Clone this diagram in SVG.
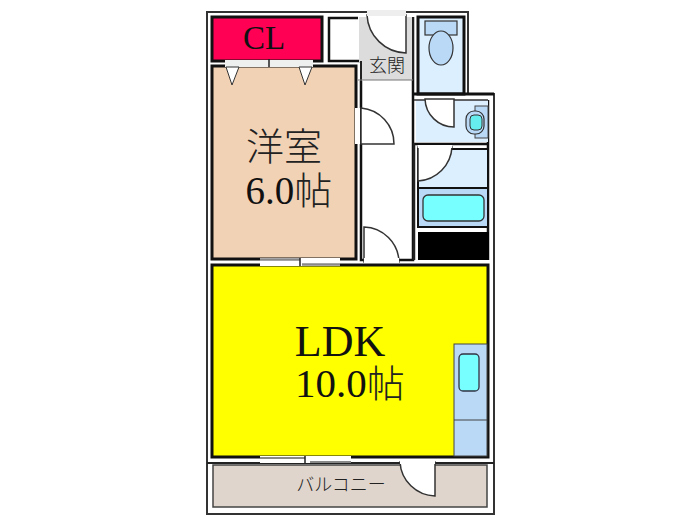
<svg xmlns="http://www.w3.org/2000/svg" width="700" height="525" viewBox="0 0 700 525">
<style>
.door{fill:#fff;stroke:#333;stroke-width:1.5}
.gap{fill:#fff;stroke:none}
.jp{font-family:"Noto Sans CJK JP","Noto Sans",sans-serif;fill:#222;font-weight:300}
.en{font-family:"Liberation Serif","Noto Sans CJK JP",serif;fill:#111}
</style>
<rect width="700" height="525" fill="#fff"/>
<g id="outer-wall">
<path d="M207 12H468V94H494V514H207Z" fill="#fff" stroke="#333" stroke-width="2"/>
<path d="M207 463H494" fill="none" stroke="#222" stroke-width="2"/>
<path d="M488 100V260" fill="none" stroke="#111" stroke-width="2.500"/>
</g>
<g id="balcony">
<rect x="213" y="465" width="274" height="42" fill="#e0d5cc" stroke="#444" stroke-width="1.500"/>
<path d="M435 462V496A36 36 0 0 1 400 462Z" class="door"/>
<rect x="400" y="458" width="35" height="6" class="gap"/>
<text x="341" y="491" text-anchor="middle" class="jp" font-size="18">バルコニー</text>
</g>
<g id="closet">
<rect x="212" y="17" width="110" height="44" fill="#ff0055" stroke="#111" stroke-width="3"/>
<text x="264" y="49" text-anchor="middle" class="en" font-size="33">CL</text>
</g>
<g id="storage">
<path d="M358 18H329V61H361" fill="#fff" stroke="#111" stroke-width="2.500"/>
</g>
<g id="western-room">
<rect x="212" y="66" width="144" height="193" fill="#f2d2b5" stroke="#111" stroke-width="3"/>
<rect x="225" y="60" width="88" height="7" fill="#eef0f0"/>
<path d="M269 59V67" fill="none" stroke="#222" stroke-width="1.500"/>
<path d="M226 67H239L232 85ZM299 67H312L305 85Z" fill="#fff" stroke="#333" stroke-width="1"/>
<text x="284" y="160" text-anchor="middle" class="jp" font-size="38">洋室</text>
<text x="289" y="204" text-anchor="middle" class="en" font-size="39">6.0<tspan class="jp" font-size="38">帖</tspan></text>
</g>
<g id="hall">
<path d="M361 81V260H413V17" fill="#fff" stroke="#111" stroke-width="2.500"/>
<path d="M361 108V144H394A36 36 0 0 0 361 108Z" class="door"/>
<rect x="355" y="108" width="5" height="36" class="gap"/>
<path d="M364 262V227A36 36 0 0 1 399 262Z" class="door"/>
<rect x="364" y="258" width="35" height="7" class="gap"/>
</g>
<g id="entrance">
<path d="M359 17H413V80H361V62H359Z" fill="#dcdcdc"/>
<path d="M361 61V81M413 17V80" fill="none" stroke="#222" stroke-width="2"/>
<path d="M358 80H413" stroke="#777" stroke-width="1" fill="none"/>
<path d="M406 15V53A40 40 0 0 1 367 15Z" class="door"/>
<rect x="367" y="10" width="39" height="6" fill="#eee"/>
<text x="387" y="72" text-anchor="middle" class="jp" font-size="18">玄関</text>
</g>
<g id="toilet">
<rect x="418" y="17" width="46" height="77" fill="#dcefff" stroke="#111" stroke-width="3"/>
<rect x="425" y="21" width="32" height="14" fill="#b9d9f7" stroke="#333" stroke-width="1.200"/>
<ellipse cx="441" cy="48" rx="12" ry="17" fill="#b9d9f7" stroke="#333" stroke-width="1.200"/>
</g>
<g id="washroom">
<rect x="416" y="100" width="72" height="42" fill="#dcefff"/>
<path d="M414 94H494" stroke="#111" stroke-width="3" fill="none"/>
<path d="M414 100H425M454 100H488" fill="none" stroke="#333" stroke-width="1.500"/>
<path d="M454 99V127A29 29 0 0 1 425 99Z" class="door"/>
<rect x="475" y="106" width="13" height="32" fill="#b9d9f7" stroke="#444" stroke-width="1"/>
<rect x="466" y="111" width="18" height="23" rx="8" fill="#b9d9f7" stroke="#333" stroke-width="1.200"/>
<rect x="470" y="115" width="12" height="15" rx="4" fill="#66eeee" stroke="#333" stroke-width="1"/>
</g>
<g id="bath">
<path d="M414 144H488" stroke="#111" stroke-width="2.500"/>
<rect x="418" y="149" width="70" height="39" fill="#dcefff" stroke="#111" stroke-width="2"/>
<rect x="418" y="188" width="70" height="39" fill="#b9d9f7" stroke="#111" stroke-width="2"/>
<rect x="423" y="195" width="61" height="26" rx="5" fill="#7ff" stroke="#333" stroke-width="1.300"/>
<path d="M418 147V181A36 36 0 0 0 452 147Z" class="door"/>
<rect x="418" y="145" width="34" height="3" class="gap"/>
<path d="M414 143V260" fill="none" stroke="#222" stroke-width="2.500"/>
</g>
<g id="black-storage">
<rect x="418" y="232" width="71" height="28" fill="#000"/>
</g>
<g id="ldk">
<rect x="212" y="265" width="276" height="192" fill="#ff0" stroke="#111" stroke-width="3"/>
<rect x="260" y="258" width="80" height="8" fill="#fff"/>
<path d="M260 259.500H300M302 264.500H340" stroke="#888" stroke-width="2.500"/>
<path d="M300 258V266" fill="none" stroke="#222" stroke-width="1.500"/>
<rect x="260" y="456" width="91" height="7" fill="#fff"/>
<path d="M260 458H305M310 462H351" stroke="#888" stroke-width="2"/>
<path d="M305 456V464" fill="none" stroke="#222" stroke-width="1.500"/>
<text x="340" y="356" text-anchor="middle" class="en" font-size="44">LDK</text>
<text x="350" y="397" text-anchor="middle" class="en" font-size="41">10.0<tspan class="jp" font-size="38">帖</tspan></text>
</g>
<g id="kitchen">
<rect x="454" y="344" width="33" height="112" fill="#b9d9f7" stroke="#444" stroke-width="1"/>
<path d="M454 420H487" stroke="#444" stroke-width="1.200"/>
<rect x="459" y="354" width="20" height="37" rx="4" fill="#7ff" stroke="#334" stroke-width="1.300"/>
</g>
</svg>
